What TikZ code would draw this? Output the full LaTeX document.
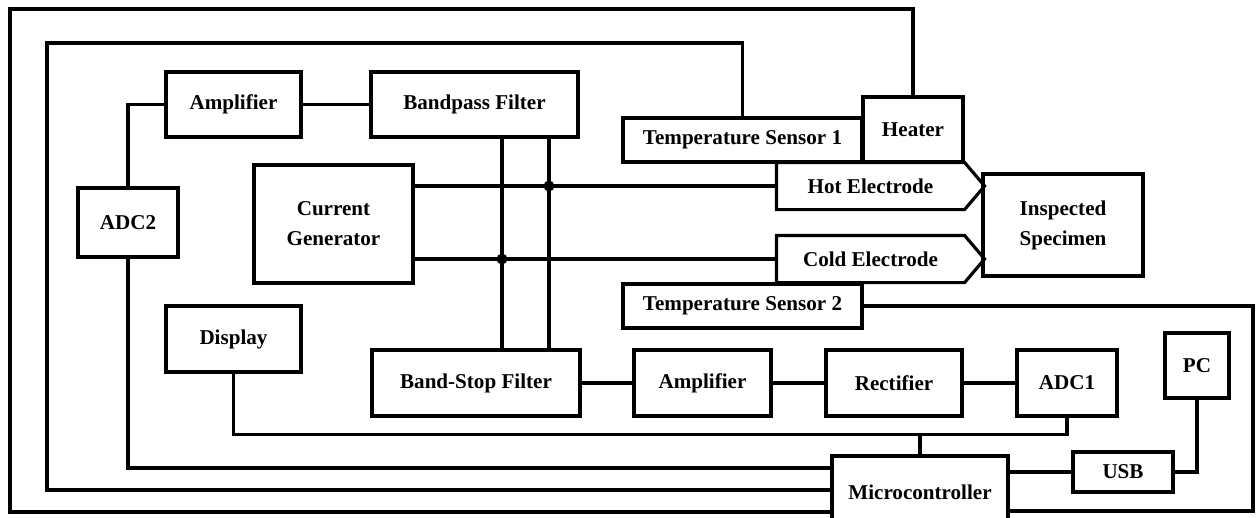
\documentclass[tikz,border=0pt]{standalone}
\usepackage{fontspec}
\setmainfont{Liberation Serif}

\begin{document}
\begin{tikzpicture}[box/.style={draw, inner sep=0pt, align=center}, x=0.2mm, y=-0.2mm,
			elec/.style={inner sep=0pt, minimum width=3.7cm, minimum height=0.88cm},
			dot/.style={circle, fill, inner sep=0pt, minimum size=0.22cm},
			line width=1.8pt,   %Linienstaerke fuer alles
			font=\bfseries\fontsize{12}{17}\selectfont]
			%Bildbereich
			\useasboundingbox (0,0) rectangle (1257,517);
			\clip (0,0) rectangle (1257,517);
			% Bloecke oben
			\node[box, minimum width=2.7cm, minimum height=1.3cm] (amptop) at (233.5,104.5) {Amplifier};
			\node[box, minimum width=4.14cm, minimum height=1.3cm] (bpf) at (474.5,104.5) {Bandpass Filter};
			\node[box, minimum width=2cm, minimum height=1.38cm] (adctwo) at (128,222.5) {ADC2};
			\node[box, minimum width=3.18cm, minimum height=2.36cm] (cgen) at (333.5,224) {Current\\Generator};
			\node[box, minimum width=4.78cm, minimum height=0.88cm] (tsone) at (742.5,140) {Temperature Sensor 1};
			\node[box, minimum width=2cm, minimum height=1.3cm] (heater) at (913,129.5) {Heater};
			% Elektroden und Probe
			\node[elec] (hot) at (870.5,186) {Hot Electrode};
			\node[elec] (cold) at (870.5,259) {Cold Electrode};
			\draw (hot.north west) -- (hot.north east) -- ([xshift=0.4cm]hot.east) -- (hot.south east) -- (hot.south west) -- cycle;
			\draw (cold.north west) -- (cold.north east) -- ([xshift=0.4cm]cold.east) -- (cold.south east) -- (cold.south west) -- cycle;
			\node[box, minimum width=3.2cm, minimum height=2.04cm] (spec) at (1063,225) {Inspected\\Specimen};
			\node[box, minimum width=4.78cm, minimum height=0.88cm] (tstwo) at (742.5,306) {Temperature Sensor 2};
			% Bloecke unten
			\node[box, minimum width=2.7cm, minimum height=1.32cm] (disp) at (233.5,339) {Display};
			\node[box, minimum width=4.16cm, minimum height=1.32cm] (bsf) at (476,383) {Band-Stop Filter};
			\node[box, minimum width=2.74cm, minimum height=1.32cm] (ampbot) at (702.5,383) {Amplifier};
			\node[box, minimum width=2.72cm, minimum height=1.32cm] (rect) at (894,383) {Rectifier};
			\node[box, minimum width=2cm, minimum height=1.32cm] (adcone) at (1067,383) {ADC1};
			\node[box, minimum width=1.28cm, minimum height=1.3cm] (pc) at (1197,365.5) {PC};
			\node[box, minimum width=2cm, minimum height=0.8cm] (usb) at (1123,472) {USB};
			\node[box, minimum width=3.52cm, minimum height=1.44cm] (mcu) at (920,492) {Microcontroller};
			% Signalweg
			\draw (adctwo.north) |- (amptop.west);
			\draw (amptop.east) -- (bpf.west);
			\draw (cgen.east |- hot.west) -- (hot.west);
			\draw (cgen.east |- cold.west) -- (cold.west);
			\coordinate (tapa) at ([xshift=0.55cm]bpf.south);
			\coordinate (tapb) at ([xshift=1.49cm]bpf.south);
			\draw (tapa) -- (tapa |- bsf.north);
			\draw (tapb) -- (tapb |- bsf.north);
			\node[dot] (dotcold) at (tapa |- cold.west) {};
			\node[dot] (dothot) at (tapb |- hot.west) {};
			\draw (bsf.east) -- (ampbot.west);
			\draw (ampbot.east) -- (rect.west);
			\draw (rect.east) -- (adcone.west);
			% Leitungen zum Mikrocontroller
			\coordinate (jn) at ([yshift=0.4cm]mcu.north);
			\draw (adcone.south) |- (jn) -- (mcu.north);
			\draw (disp.south) |- (jn);
			\draw (adctwo.south) |- ([yshift=0.48cm]mcu.west);
			\draw (tsone.north) |- (47,43) |- ([yshift=0.04cm]mcu.west);
			\draw (heater.north) |- (10,9) |- ([yshift=-0.4cm]mcu.west);
			\draw (tstwo.east) -- (1253,306) |- ([yshift=-0.38cm]mcu.east);
			\draw (usb.west -| mcu.east) -- (usb.west);
			\draw (usb.east) -| (pc.south);
		\end{tikzpicture}
\end{document}
